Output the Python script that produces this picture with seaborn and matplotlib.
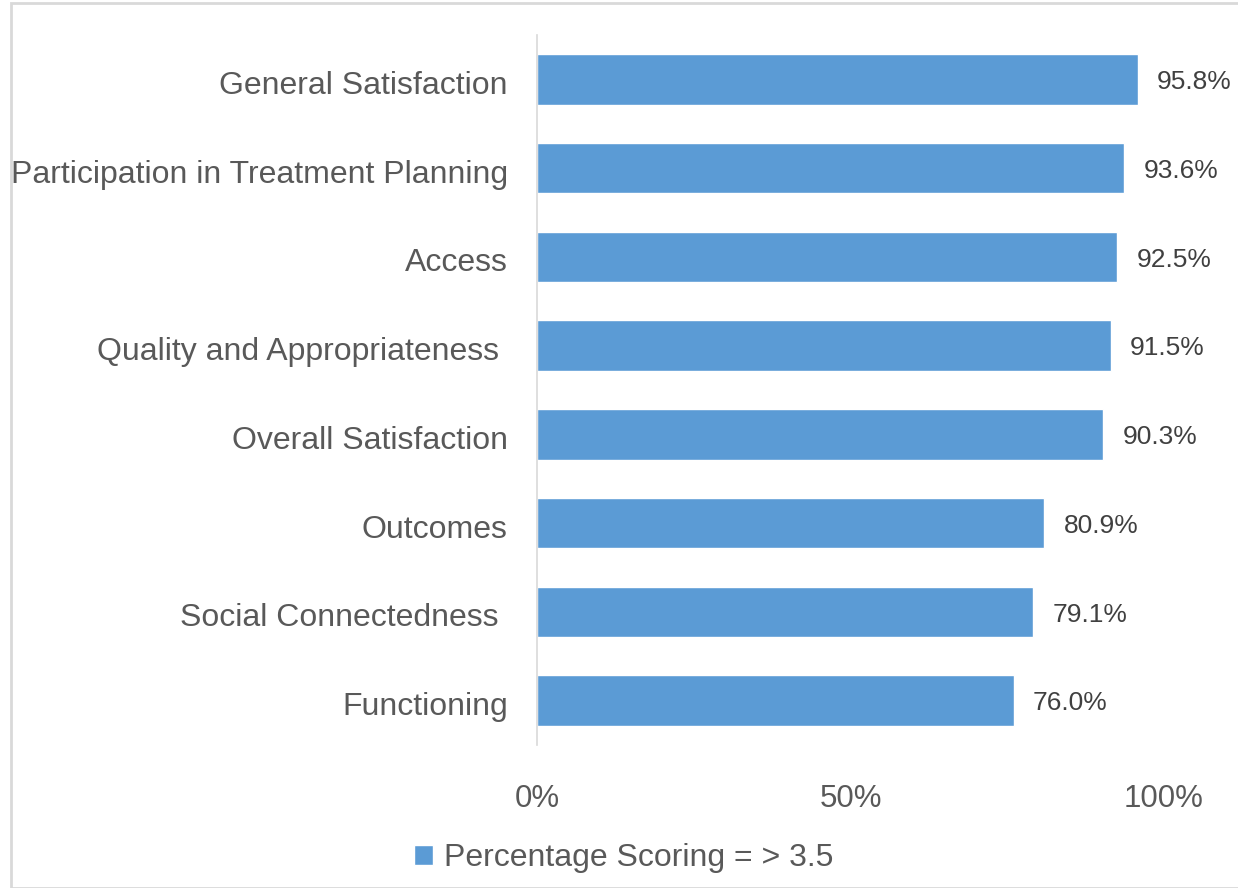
import pandas as pd
import seaborn as sns
import matplotlib.pyplot as plt
import matplotlib.transforms as mtransforms
from matplotlib.patches import Rectangle
from matplotlib.ticker import PercentFormatter

categories = [
    "General Satisfaction",
    "Participation in Treatment Planning",
    "Access",
    "Quality and Appropriateness ",
    "Overall Satisfaction",
    "Outcomes",
    "Social Connectedness ",
    "Functioning",
]
values = [95.8, 93.6, 92.5, 91.5, 90.3, 80.9, 79.1, 76.0]
series_name = "Percentage Scoring = > 3.5"
x_ticks = [0, 50, 100]

df = pd.DataFrame({"Category": categories, "Value": values})

sns.set_theme(style="white")
plt.rcParams["font.family"] = ["Liberation Sans", "DejaVu Sans"]

fig = plt.figure(figsize=(12.38, 8.88), dpi=100)
ax = fig.add_axes([537 / 1238, 1 - 745 / 888, 627 / 1238, 710 / 888])

sns.barplot(data=df, x="Value", y="Category", orient="h", color="#5B9BD5",
            saturation=1, width=0.57, ax=ax, label=series_name)

ax.set_xlim(0, 100)
ax.set_xticks(x_ticks)
ax.xaxis.set_major_formatter(PercentFormatter(decimals=0))
ax.set_xlabel("")
ax.set_ylabel("")
ax.tick_params(axis="x", length=0, pad=28, labelsize=22.5, labelcolor="#595959")
ax.tick_params(axis="y", length=0, pad=21, labelsize=23, labelcolor="#595959")

# nudge category labels down a little, like the original
shift = mtransforms.ScaledTranslation(0, -3 / 100, fig.dpi_scale_trans)
for lbl in ax.get_yticklabels():
    lbl.set_transform(lbl.get_transform() + shift)

for side in ["top", "right", "bottom"]:
    ax.spines[side].set_visible(False)
ax.spines["left"].set_color("#d9d9d9")
ax.spines["left"].set_linewidth(1.2)

# data labels
for i, v in enumerate(values):
    ax.annotate(f"{v:.1f}%", (v, i), xytext=(14, -2), textcoords="offset points",
                va="center", ha="left", fontsize=19, color="#404040")

leg = ax.legend(loc="center", bbox_to_anchor=(624 / 1238, 1 - 858 / 888),
                bbox_transform=fig.transFigure, frameon=False, fontsize=23,
                handlelength=0.6, handleheight=0.6, handletextpad=0.35)
for t in leg.get_texts():
    t.set_color("#595959")

# outer chart border
fig.patches.append(Rectangle((11 / 1238, 0), 1.1, 1 - 3 / 888, transform=fig.transFigure,
                             fill=False, edgecolor="#d9d9d9", linewidth=2))

fig.savefig("out.png", dpi=100)
